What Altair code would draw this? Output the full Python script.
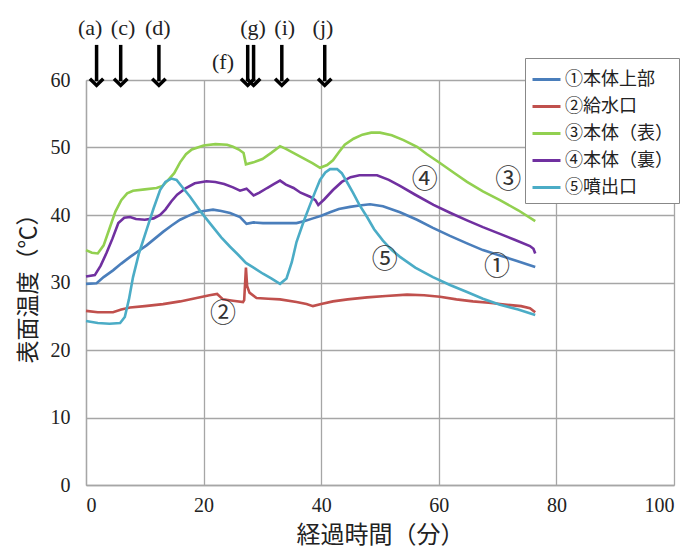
import altair as alt
import pandas as pd

series_names = ["①本体上部", "②給水口", "③本体（表）", "④本体（裏）", "⑤噴出口"]
series_colors = ["#4a7ebb", "#c0504d", "#92d050", "#7030a0", "#4bacc6"]

t_blue = [0, 1.8, 3, 4.6, 6, 7.5, 9, 10.3, 11.7, 13.1, 14.5, 16, 17.5, 18.8, 20, 21.6, 23, 24.5, 26.2, 27.3,
          28.5, 30.1, 33, 35.8, 37.2, 38.6, 40, 41.5, 43, 44.9, 46.5, 48.3, 50.5, 53.4, 56.3, 59, 61.9, 64.8,
          67.5, 70.4, 73.3, 76.4]
v_blue = [29.8, 29.9, 30.8, 31.8, 32.8, 33.8, 34.7, 35.5, 36.5, 37.5, 38.4, 39.3, 39.9, 40.4, 40.6, 40.8, 40.6,
          40.3, 39.7, 38.7, 38.9, 38.8, 38.8, 38.8, 39.1, 39.5, 39.9, 40.4, 40.9, 41.2, 41.4, 41.6, 41.3, 40.4,
          39.3, 38.1, 36.9, 35.8, 34.8, 34.0, 33.2, 32.3]

t_red = [0, 2, 4.6, 6, 7.5, 10, 13.1, 16, 18.8, 21, 22.3, 23.3, 25, 26.7, 26.9, 27.2, 27.4, 27.8, 29, 31, 33,
         35.8, 37.5, 38.6, 40, 42, 44.5, 47.8, 51, 54.6, 57.5, 60.2, 63, 65.8, 68.5, 71.6, 74, 75.5, 76.4]
v_red = [25.8, 25.6, 25.6, 26.0, 26.3, 26.5, 26.8, 27.2, 27.7, 28.1, 28.3, 27.5, 27.3, 27.1, 27.4, 32.2, 29.5,
         28.5, 27.7, 27.6, 27.5, 27.1, 26.8, 26.5, 26.8, 27.2, 27.5, 27.8, 28.0, 28.2, 28.1, 27.9, 27.5, 27.2,
         27.0, 26.7, 26.5, 26.2, 25.6]

t_green = [0, 1, 2, 3, 4, 5, 6, 7, 8, 10, 12, 13, 14, 15, 16, 17, 18, 20, 22, 24, 25, 26, 26.8, 27.2, 28.5, 30,
           31.5, 33, 34, 35.5, 37, 38.5, 39.8, 41, 42, 43, 44, 45.5, 47, 48.5, 50, 52, 54, 56.3, 58, 60.2, 62.5,
           64.8, 67.5, 70.4, 73.5, 76.4]
v_green = [34.8, 34.4, 34.3, 35.5, 38.0, 40.5, 42.2, 43.2, 43.6, 43.8, 44.0, 44.3, 45.2, 46.2, 47.8, 49.0, 49.7,
           50.3, 50.5, 50.4, 50.1, 49.7, 49.2, 47.5, 47.8, 48.3, 49.2, 50.2, 49.8, 49.1, 48.4, 47.7, 47.0, 47.4,
           48.1, 49.3, 50.4, 51.3, 51.9, 52.2, 52.2, 51.8, 51.1, 50.1, 49.0, 47.7, 46.3, 44.9, 43.5, 42.2, 40.7,
           39.1]

t_purple = [0, 1.5, 2.5, 3.5, 4.5, 5.5, 6.5, 7.5, 8.5, 10, 11.5, 12.6, 13.5, 14.5, 15.5, 17, 18.5, 20.5, 22,
            23.5, 25, 26.2, 27.3, 28.5, 29.5, 30.8, 32, 33, 34, 35.3, 36.5, 38.1, 39, 39.5, 40.5, 42, 43.5, 45,
            46.5, 49.5, 51.5, 53.4, 56, 59.1, 62, 64.8, 67.5, 70.4, 73, 75.5, 76.1, 76.4]
v_purple = [30.9, 31.1, 32.5, 34.4, 36.5, 38.8, 39.6, 39.7, 39.4, 39.3, 39.5, 40.0, 40.8, 42.0, 43.0, 44.0, 44.7,
            45.0, 44.9, 44.6, 44.1, 43.6, 43.9, 42.9, 43.3, 44.0, 44.6, 45.1, 44.5, 44.0, 43.3, 42.7, 42.2, 41.5,
            42.3, 43.7, 44.9, 45.6, 45.9, 45.9, 45.2, 44.3, 43.0, 41.5, 40.3, 39.2, 38.2, 37.2, 36.3, 35.4, 35.0,
            34.3]

t_cyan = [0, 2, 4, 5.8, 6.6, 7.3, 8, 9, 10.3, 11.5, 12.6, 13.5, 14.5, 15.4, 16.5, 17.7, 19.5, 21.6, 23, 24.5, 26,
          27.2, 28.5, 30.1, 31.5, 33, 34.1, 35, 35.8, 37, 38.1, 39, 39.8, 40.7, 41.5, 42.7, 43.5, 44.5, 45.4,
          46.5, 47.8, 49, 50.5, 52, 53.4, 56, 59, 62, 64.8, 67.5, 70.4, 73.5, 76.4]
v_cyan = [24.3, 24.0, 23.9, 24.0, 24.9, 27.5, 30.8, 34.3, 37.8, 41.0, 43.7, 44.9, 45.4, 45.2, 44.0, 42.7, 40.5,
          38.2, 36.7, 35.3, 34.0, 32.9, 32.2, 31.3, 30.6, 29.8, 30.6, 33.0, 36.0, 39.0, 41.5, 43.5, 45.2, 46.3,
          46.8, 46.8, 46.2, 44.7, 43.3, 41.5, 39.7, 37.9, 36.2, 34.8, 33.8, 32.2, 30.8, 29.6, 28.6, 27.6, 26.7,
          26.0, 25.2]

# circled-number annotations next to curves
anno_text = ["①", "②", "③", "④", "⑤"]
anno_t = [69.9, 23.3, 71.8, 57.6, 50.8]
anno_v = [32.3, 25.4, 45.2, 45.2, 33.3]

# event arrows at the top
arrow_t = [1.8, 5.9, 12.4, 27.5, 28.5, 33.3, 40.6]
event_text = ["(a)", "(c)", "(d)", "(f)", "(g)", "(i)", "(j)"]
event_t = [0.7, 6.3, 12.2, 23.3, 28.4, 33.8, 40.3]
event_v = [67.7, 67.7, 67.7, 62.7, 67.7, 67.7, 67.7]

rows = []
for name, ts, vs in zip(series_names,
                        [t_blue, t_red, t_green, t_purple, t_cyan],
                        [v_blue, v_red, v_green, v_purple, v_cyan]):
    for t, v in zip(ts, vs):
        rows.append({"series": name, "t": t, "v": v})
df = pd.DataFrame(rows)

anno_df = pd.DataFrame({"text": anno_text, "t": anno_t, "v": anno_v})
arrow_df = pd.DataFrame({"t": arrow_t, "top": [65.2] * len(arrow_t), "bot": [59.8] * len(arrow_t),
                         "tip": [59.2] * len(arrow_t)})
event_df = pd.DataFrame({"text": event_text, "t": event_t, "v": event_v})

xscale = alt.Scale(domain=[0, 100], nice=False)
yscale = alt.Scale(domain=[0, 60], nice=False)

SERIF = "Liberation Serif"
CJK = "Noto Sans CJK JP"

lines = alt.Chart(df).mark_line(strokeWidth=2.6).encode(
    x=alt.X("t:Q", scale=xscale,
            axis=alt.Axis(values=[0, 20, 40, 60, 80, 100], title="経過時間（分）",
                          titleFont=CJK, titleFontSize=24, titleFontWeight="normal",
                          titlePadding=8, labelFont=SERIF, labelFontSize=20, labelPadding=10,
                          ticks=False, grid=True, gridColor="#a6a6a6", gridWidth=1.3,
                          domainColor="#a6a6a6", domainWidth=1.3, labelColor="#222",
                          titleColor="#222")),
    y=alt.Y("v:Q", scale=yscale,
            axis=alt.Axis(values=[0, 10, 20, 30, 40, 50, 60], title="表面温度（℃）",
                          titleFont=CJK, titleFontSize=23, titleFontWeight="normal",
                          titlePadding=10, labelFont=SERIF, labelFontSize=20, labelPadding=16,
                          ticks=False, grid=True, gridColor="#a6a6a6", gridWidth=1.3,
                          domainColor="#a6a6a6", domainWidth=1.3, labelColor="#222",
                          titleColor="#222")),
    color=alt.Color("series:N",
                    scale=alt.Scale(domain=series_names, range=series_colors),
                    sort=series_names,
                    legend=alt.Legend(orient="none", legendX=439, legendY=-22, title=None,
                                      direction="vertical", symbolType="stroke", symbolSize=784,
                                      symbolStrokeWidth=3, labelFont=CJK, labelFontSize=18,
                                      labelColor="#222", padding=6, strokeColor="#888",
                                      fillColor="white", rowPadding=2, labelOffset=3,
                                      labelLimit=300)),
)

anno = alt.Chart(anno_df).mark_text(font=CJK, fontSize=26, color="#333").encode(
    x=alt.X("t:Q", scale=xscale), y=alt.Y("v:Q", scale=yscale), text="text:N")

shafts = alt.Chart(arrow_df).mark_rule(strokeWidth=3.5, color="black").encode(
    x=alt.X("t:Q", scale=xscale), y=alt.Y("top:Q", scale=yscale), y2="bot:Q")

heads = alt.Chart(arrow_df).mark_point(shape="M-1,-1L0,0L1,-1", filled=False, size=180,
                                       strokeWidth=3.5, color="black", opacity=1).encode(
    x=alt.X("t:Q", scale=xscale), y=alt.Y("tip:Q", scale=yscale))

events = alt.Chart(event_df).mark_text(font=SERIF, fontSize=22, color="#222").encode(
    x=alt.X("t:Q", scale=xscale), y=alt.Y("v:Q", scale=yscale), text="text:N")

chart = alt.layer(lines, anno, shafts, heads, events).properties(
    width=588, height=405,
    autosize=alt.AutoSizeParams(type="none"),
    padding={"left": 78, "top": 72, "right": 8, "bottom": 64},
    background="white",
).configure_view(stroke=None)

chart.save("out.html", embed_options={"renderer": "svg", "actions": False})
